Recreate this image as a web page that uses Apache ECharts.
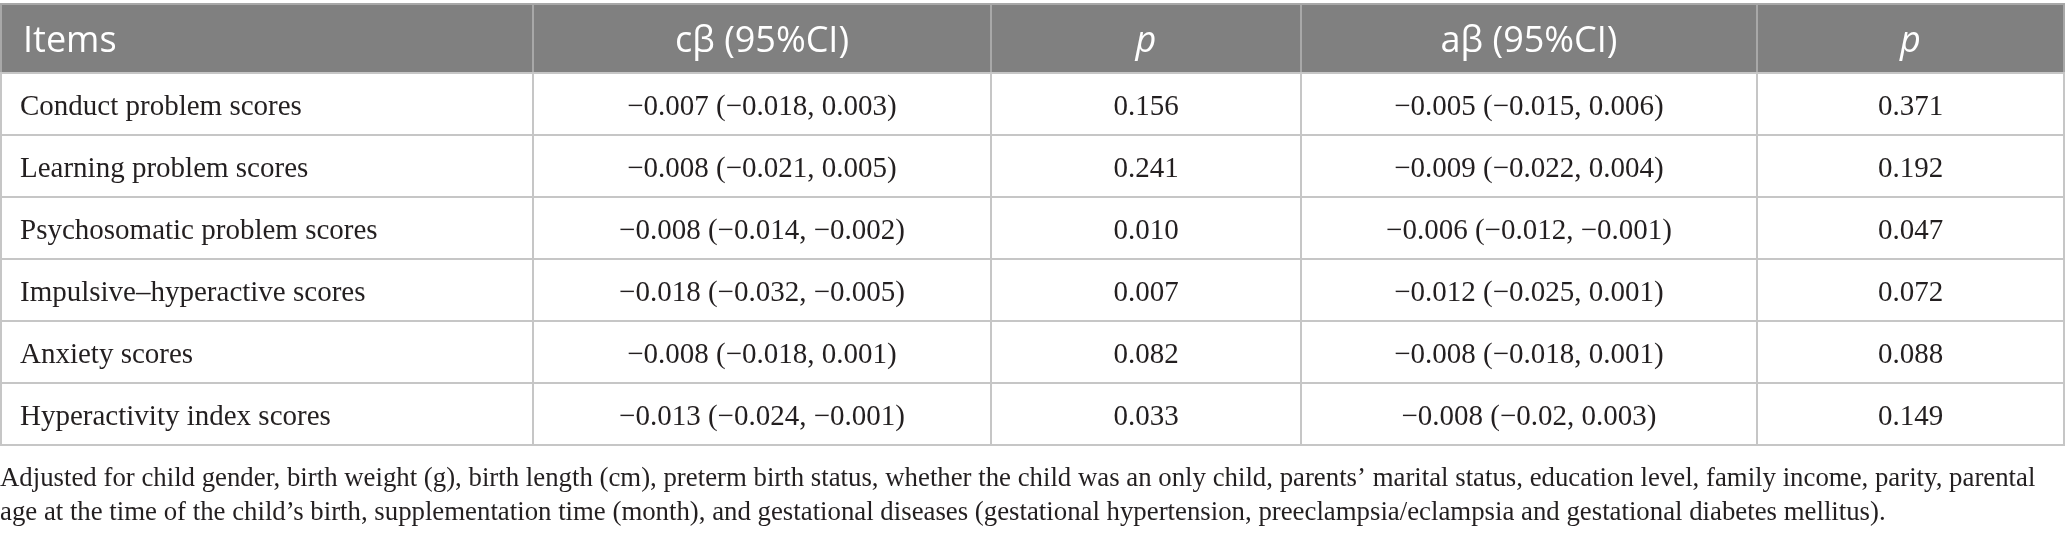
<!DOCTYPE html>
<html>
  <head>
    <meta charset="utf-8" />
    <title>Table</title>
    <script src="https://cdn.jsdelivr.net/npm/echarts@6/dist/echarts.min.js"></script>
    <style>
      html, body { margin: 0; padding: 0; background: #ffffff; }
    </style>
  </head>
  <body>
    <div id="main" style="width: 2067px; height: 535px;"></div>
    <script type="text/javascript">
      // column headers
      var headers = ['Items', 'cβ (95%CI)', 'p', 'aβ (95%CI)', 'p'];
      // row labels
      var items = [
        'Conduct problem scores',
        'Learning problem scores',
        'Psychosomatic problem scores',
        'Impulsive–hyperactive scores',
        'Anxiety scores',
        'Hyperactivity index scores'
      ];
      // c beta and its p
      var cBeta = [
        '−0.007 (−0.018, 0.003)',
        '−0.008 (−0.021, 0.005)',
        '−0.008 (−0.014, −0.002)',
        '−0.018 (−0.032, −0.005)',
        '−0.008 (−0.018, 0.001)',
        '−0.013 (−0.024, −0.001)'
      ];
      var cP = ['0.156', '0.241', '0.010', '0.007', '0.082', '0.033'];
      // a beta and its p
      var aBeta = [
        '−0.005 (−0.015, 0.006)',
        '−0.009 (−0.022, 0.004)',
        '−0.006 (−0.012, −0.001)',
        '−0.012 (−0.025, 0.001)',
        '−0.008 (−0.018, 0.001)',
        '−0.008 (−0.02, 0.003)'
      ];
      var aP = ['0.371', '0.192', '0.047', '0.072', '0.088', '0.149'];

      var footnote = 'Adjusted for child gender, birth weight (g), birth length (cm), preterm birth status, whether the child was an only child, parents’ marital status, education level, family income, parity, parental\n'
        + 'age at the time of the child’s birth, supplementation time (month), and gestational diseases (gestational hypertension, preeclampsia/eclampsia and gestational diabetes mellitus).';

      // layout (px units on the axes)
      var colWidths = [532, 458, 310, 456, 307];
      var headerH = 69;
      var rowH = 62;

      var colEdges = [0];
      colWidths.forEach(function (w, i) { colEdges.push(colEdges[i] + w); });
      var rowEdges = [0, headerH];
      items.forEach(function (d, i) { rowEdges.push(rowEdges[i + 1] + rowH); });
      var totalW = colEdges[colEdges.length - 1];
      var totalH = rowEdges[rowEdges.length - 1];

      var columns = [items, cBeta, cP, aBeta, aP];

      // one data item per cell: [col, row, text]
      var cells = [];
      headers.forEach(function (h, c) { cells.push([c, 0, h]); });
      items.forEach(function (d, r) {
        columns.forEach(function (col, c) { cells.push([c, r + 1, col[r]]); });
      });

      var serif = '"Liberation Serif", "Times New Roman", serif';
      var sans = '"Open Sans", "Noto Sans", sans-serif';

      function renderCell(params, api) {
        var c = api.value(0);
        var r = api.value(1);
        var text = cells[params.dataIndex][2];
        var p0 = api.coord([colEdges[c], rowEdges[r]]);
        var p1 = api.coord([colEdges[c + 1], rowEdges[r + 1]]);
        var isHead = r === 0;
        var left = c === 0;
        var tx = left ? p0[0] + (isHead ? 22 : 19) : (p0[0] + p1[0]) / 2;
        var ty = (p0[1] + p1[1]) / 2 + (isHead ? 3 : 3);
        var font;
        if (isHead) {
          font = (c === 2 || c === 4 ? 'italic ' : '') + '36px ' + sans;
        } else {
          font = '29px ' + serif;
        }
        return {
          type: 'group',
          children: [
            {
              type: 'rect',
              shape: { x: p0[0], y: p0[1], width: p1[0] - p0[0], height: p1[1] - p0[1] },
              style: {
                fill: isHead ? '#808080' : '#ffffff',
                stroke: isHead ? '#a8a8a8' : '#c6c6c6',
                lineWidth: 2
              }
            },
            {
              type: 'text',
              style: {
                text: text,
                x: tx,
                y: ty,
                fill: isHead ? '#ffffff' : '#231f20',
                font: font,
                align: left ? 'left' : 'center',
                verticalAlign: 'middle'
              }
            }
          ]
        };
      }

      var myChart = echarts.init(document.getElementById('main'));
      var option = {
        animation: false,
        backgroundColor: '#ffffff',
        title: {
          text: footnote,
          left: -5,
          top: 457,
          textStyle: {
            fontFamily: serif,
            fontSize: 26.8,
            fontWeight: 'normal',
            color: '#231f20',
            lineHeight: 34
          }
        },
        grid: { left: 1, top: 4, width: totalW, height: totalH },
        xAxis: { type: 'value', min: 0, max: totalW, show: false },
        yAxis: { type: 'value', min: 0, max: totalH, inverse: true, show: false },
        series: [
          {
            type: 'custom',
            renderItem: renderCell,
            clip: false,
            encode: { x: 0, y: 1 },
            data: cells.map(function (d) { return [d[0], d[1]]; })
          }
        ]
      };
      myChart.setOption(option);
    </script>
  </body>
</html>
